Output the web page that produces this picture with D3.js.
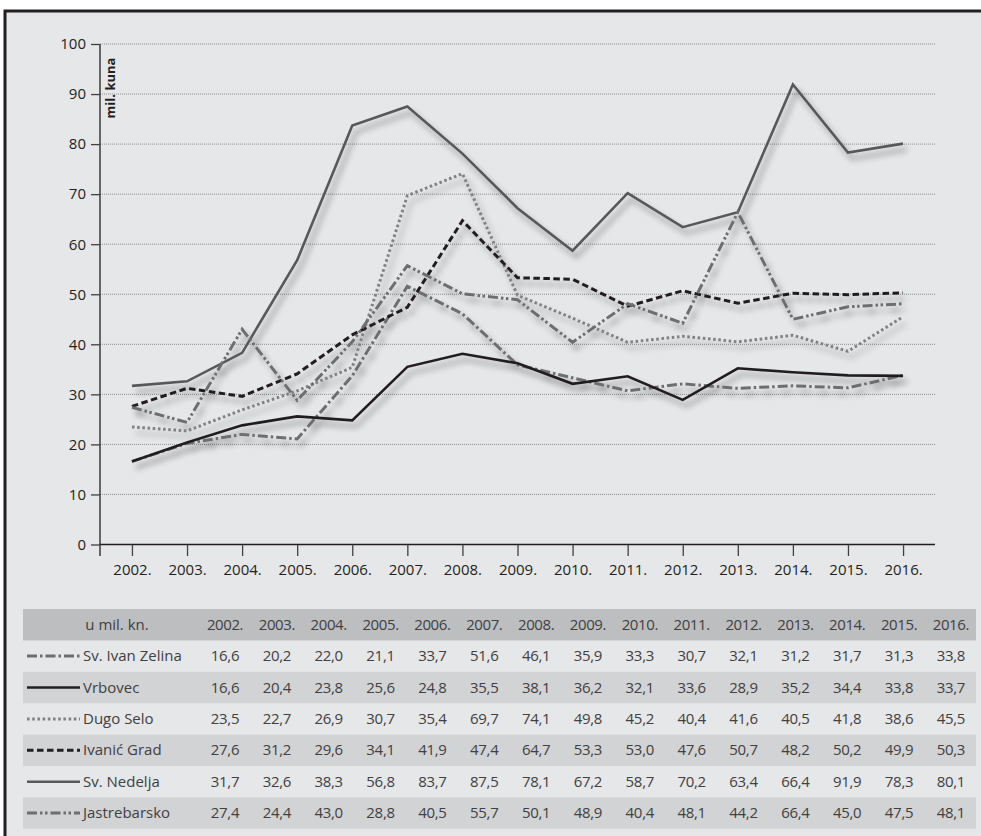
<!DOCTYPE html>
<html>
<head>
<meta charset="utf-8">
<script src="https://cdn.jsdelivr.net/npm/d3@7/dist/d3.min.js"></script>
<style>
  html, body { margin: 0; padding: 0; background: #ffffff; overflow: hidden; }
  svg { display: block; overflow: hidden; }
  text { font-family: "Open Sans", "Noto Sans", sans-serif; }
</style>
</head>
<body>
<svg id="chart" width="981" height="836"></svg>
<script>
// Years shown on the x axis and as table columns
const years = ["2002.", "2003.", "2004.", "2005.", "2006.", "2007.", "2008.",
               "2009.", "2010.", "2011.", "2012.", "2013.", "2014.", "2015.", "2016."];

// City names (table rows, in order)
const cities = ["Sv. Ivan Zelina", "Vrbovec", "Dugo Selo", "Ivanić Grad", "Sv. Nedelja", "Jastrebarsko"];

// Revenue per city, million kuna
const svIvanZelina = [16.6, 20.2, 22.0, 21.1, 33.7, 51.6, 46.1, 35.9, 33.3, 30.7, 32.1, 31.2, 31.7, 31.3, 33.8];
const vrbovec      = [16.6, 20.4, 23.8, 25.6, 24.8, 35.5, 38.1, 36.2, 32.1, 33.6, 28.9, 35.2, 34.4, 33.8, 33.7];
const dugoSelo     = [23.5, 22.7, 26.9, 30.7, 35.4, 69.7, 74.1, 49.8, 45.2, 40.4, 41.6, 40.5, 41.8, 38.6, 45.5];
const ivanicGrad   = [27.6, 31.2, 29.6, 34.1, 41.9, 47.4, 64.7, 53.3, 53.0, 47.6, 50.7, 48.2, 50.2, 49.9, 50.3];
const svNedelja    = [31.7, 32.6, 38.3, 56.8, 83.7, 87.5, 78.1, 67.2, 58.7, 70.2, 63.4, 66.4, 91.9, 78.3, 80.1];
const jastrebarsko = [27.4, 24.4, 43.0, 28.8, 40.5, 55.7, 50.1, 48.9, 40.4, 48.1, 44.2, 66.4, 45.0, 47.5, 48.1];

// Y axis ticks
const yTicks = [0, 10, 20, 30, 40, 50, 60, 70, 80, 90, 100];

const seriesValues = [svIvanZelina, vrbovec, dugoSelo, ivanicGrad, svNedelja, jastrebarsko];

// Line style per city
const styles = [
  { color: "#6d6e71", width: 3,   dash: "10,3,2.5,3" },
  { color: "#231f20", width: 2.6, dash: null },
  { color: "#808285", width: 3,   dash: "2.6,2.6" },
  { color: "#231f20", width: 3,   dash: "6.5,3.5" },
  { color: "#58595b", width: 2.6, dash: null },
  { color: "#6d6e71", width: 3,   dash: "10,3,2.5,2.5,2.5,3" }
];

const fmt = v => d3.format(".1f")(v).replace(".", ",");

const svg = d3.select("#chart");

// Panel background with a frame on its left and top edges
svg.append("rect").attr("x", 5).attr("y", 11).attr("width", 1200).attr("height", 1000)
  .attr("fill", "#e6e7e8");
svg.append("path").attr("d", "M5,1000V11H1200")
  .attr("fill", "none").attr("stroke", "#231f20").attr("stroke-width", 3);

// Shadow filter for the lines
const defs = svg.append("defs");
const f = defs.append("filter").attr("id", "shadow")
  .attr("x", "-10%").attr("y", "-10%").attr("width", "130%").attr("height", "140%");
f.append("feGaussianBlur").attr("in", "SourceAlpha").attr("stdDeviation", 3).attr("result", "blur");
f.append("feOffset").attr("in", "blur").attr("dx", 4).attr("dy", 6).attr("result", "off");
f.append("feComponentTransfer").attr("in", "off").attr("result", "soft")
  .append("feFuncA").attr("type", "linear").attr("slope", 0.4);
const merge = f.append("feMerge");
merge.append("feMergeNode").attr("in", "soft");
merge.append("feMergeNode").attr("in", "SourceGraphic");

// Scales
const x = d3.scalePoint().domain(years).range([100, 935]).padding(0.58);
const y = d3.scaleLinear().domain([0, 100]).range([544.5, 44]);

// Grid lines
svg.append("g").selectAll("line").data(yTicks.filter(d => d > 0)).join("line")
  .attr("x1", 100).attr("x2", 935)
  .attr("y1", d => y(d)).attr("y2", d => y(d))
  .attr("stroke", "#8a8c8e").attr("stroke-width", 1).attr("stroke-dasharray", "1,1");

// Y axis
const yAxis = svg.append("g").attr("transform", "translate(100,0)")
  .call(d3.axisLeft(y).tickValues(yTicks).tickSize(9).tickPadding(5));
yAxis.select(".domain").attr("stroke", "#231f20").attr("stroke-width", 1.3)
  .attr("d", `M0,${y(100)}V${y(0) + 11.5}`);
yAxis.selectAll(".tick line").attr("stroke", "#414042").attr("stroke-width", 1.3);
yAxis.selectAll(".tick text").attr("font-size", 15).attr("fill", "#231f20")
  .attr("font-family", "\"Open Sans\", sans-serif");

// X axis
const xAxis = svg.append("g").attr("transform", `translate(0,${y(0)})`)
  .call(d3.axisBottom(x).tickSize(11.5).tickPadding(8));
xAxis.select(".domain").attr("stroke", "#231f20").attr("stroke-width", 1.3)
  .attr("d", "M100,0H935");
xAxis.selectAll(".tick line").attr("stroke", "#414042").attr("stroke-width", 1.3);
xAxis.selectAll(".tick text").attr("font-size", 15).attr("fill", "#231f20")
  .attr("font-family", "\"Open Sans\", sans-serif");

// Unit label
svg.append("text").attr("transform", `translate(115,88) rotate(-90)`)
  .attr("text-anchor", "middle").attr("font-size", 13).attr("font-weight", "bold")
  .attr("fill", "#231f20").text("mil. kuna");

// Lines
const line = d3.line().x((d, i) => x(years[i])).y(d => y(d));
const lines = svg.append("g").attr("filter", "url(#shadow)");
seriesValues.forEach((vals, k) => {
  lines.append("path").datum(vals)
    .attr("d", line)
    .attr("fill", "none")
    .attr("stroke", styles[k].color)
    .attr("stroke-width", styles[k].width)
    .attr("stroke-dasharray", styles[k].dash)
    .attr("stroke-linejoin", "miter");
});

// Data table
const tableLeft = 23, tableRight = 976, headerTop = 609, rowH = 31.4;
const col = d3.scalePoint().domain(years).range([225, 225 + 51.85 * 14]);
const tbl = svg.append("g");
const fs = 15;

tbl.append("rect").attr("x", tableLeft).attr("y", headerTop)
  .attr("width", tableRight - tableLeft).attr("height", rowH).attr("fill", "#bcbec0");
tbl.append("text").attr("x", 117).attr("y", headerTop + rowH / 2 + 5)
  .attr("text-anchor", "middle").attr("font-size", fs).attr("fill", "#414042").text("u mil. kn.");
tbl.selectAll("text.year").data(years).join("text").attr("class", "year")
  .attr("x", d => col(d)).attr("y", headerTop + rowH / 2 + 5)
  .attr("text-anchor", "middle").attr("font-size", fs).attr("letter-spacing", -0.4)
  .attr("fill", "#414042").text(d => d);

cities.forEach((city, k) => {
  const top = headerTop + rowH * (k + 1);
  const cy = top + rowH / 2;
  if (k % 2 === 1) {
    tbl.append("rect").attr("x", tableLeft).attr("y", top)
      .attr("width", tableRight - tableLeft).attr("height", rowH).attr("fill", "#d1d3d4");
  }
  tbl.append("line").attr("x1", 27).attr("x2", 80).attr("y1", cy).attr("y2", cy)
    .attr("stroke", styles[k].color).attr("stroke-width", styles[k].width)
    .attr("stroke-dasharray", styles[k].dash);
  tbl.append("text").attr("x", 83).attr("y", cy + 5)
    .attr("font-size", fs).attr("fill", "#414042").text(city);
  tbl.selectAll(null).data(seriesValues[k]).join("text")
    .attr("x", (d, i) => col(years[i])).attr("y", cy + 5)
    .attr("text-anchor", "middle").attr("font-size", fs).attr("letter-spacing", -0.3)
    .attr("fill", "#414042")
    .text(d => fmt(d));
});
</script>
</body>
</html>
